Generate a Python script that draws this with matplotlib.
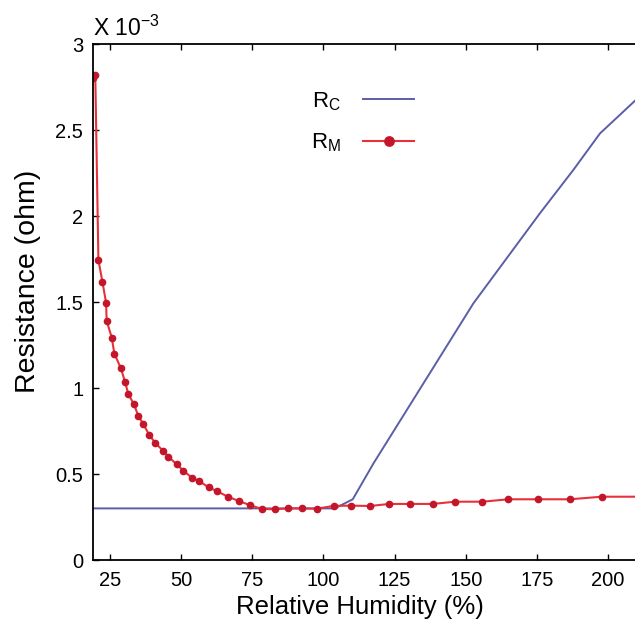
import matplotlib
matplotlib.use("Agg")
import matplotlib.pyplot as plt

plt.rcParams['font.family'] = ['Liberation Sans', 'DejaVu Sans']
plt.rcParams['mathtext.default'] = 'regular'

# R_M (measured), values in units of 1e-3 ohm
rm_rh = [19.0, 19.8, 20.9, 22.3, 23.6, 23.8, 25.6, 26.5, 28.8, 30.3, 31.4, 33.4,
         34.9, 36.7, 38.8, 40.8, 43.7, 45.5, 48.4, 50.8, 53.7, 56.3, 59.6, 62.5,
         66.4, 70.3, 74.3, 78.3, 82.8, 87.7, 92.6, 97.7, 103.7, 109.7, 116.4,
         123.2, 130.4, 138.4, 146.3, 155.9, 165.0, 175.3, 186.7, 197.8, 212.0]
rm_val = [2.80, 2.82, 1.744, 1.618, 1.496, 1.39, 1.293, 1.20, 1.115, 1.033, 0.965, 0.905,
          0.839, 0.789, 0.727, 0.682, 0.634, 0.601, 0.556, 0.519, 0.479, 0.459, 0.423, 0.401,
          0.368, 0.343, 0.318, 0.297, 0.295, 0.300, 0.300, 0.298, 0.315, 0.316, 0.314,
          0.326, 0.326, 0.326, 0.339, 0.339, 0.353, 0.353, 0.353, 0.368, 0.368]

# R_C (calculated), values in units of 1e-3 ohm
rc_rh = [19.0, 104.0, 110.3, 117.6, 129.3, 141.0, 152.7, 164.4, 176.1, 187.8, 197.2, 209.5, 215.0]
rc_val = [0.300, 0.300, 0.353, 0.562, 0.872, 1.182, 1.492, 1.754, 2.016, 2.267, 2.48, 2.67, 2.76]

x_ticks = [25, 50, 75, 100, 125, 150, 175, 200]
y_ticks = [0, 0.5, 1, 1.5, 2, 2.5, 3]
y_ticklabels = ['0', '0.5', '1', '1.5', '2', '2.5', '3']

W, H = 635, 625
fig = plt.figure(figsize=(W / 100, H / 100), dpi=100)
x0, x1 = 19.0, 215.0
px_per_unit = 2.845
ax_left = 93 / W
ax_bottom = (H - 560) / H
ax_h = (560 - 44) / H
ax_w = (x1 - x0) * px_per_unit / W
ax = fig.add_axes([ax_left, ax_bottom, ax_w, ax_h])
ax_wpx = ax_w * W
ax_hpx = ax_h * H

ax.plot(rc_rh, rc_val, color='#5b5ea6', lw=1.4, label='R$_C$')
ax.plot(rm_rh, rm_val, color='#e8303a', lw=1.5, marker='o', ms=4.5,
        mfc='#c4162a', mec='#c4162a', label='R$_M$')

ax.set_xlim(x0, x1)
ax.set_ylim(0, 3)
ax.set_xticks(x_ticks)
ax.set_yticks(y_ticks)
ax.set_yticklabels(y_ticklabels)
ax.tick_params(direction='in', length=4, width=1, labelsize=14.5, top=True, right=False)
ax.tick_params(axis='x', pad=8)
ax.tick_params(axis='y', pad=7)
for s in ['left', 'bottom', 'top']:
    ax.spines[s].set_linewidth(1.3)
ax.spines['right'].set_visible(False)

ax.set_xlabel('Relative Humidity (%)', fontsize=18.5)
ax.set_ylabel('Resistance (ohm)', fontsize=20.5)
ax.xaxis.set_label_coords((360 - 93) / ax_wpx, -(607 - 560) / ax_hpx)
ax.yaxis.set_label_coords(-(93 - 28) / ax_wpx, (560 - 281) / ax_hpx)
ax.xaxis.label.set_va('center')
ax.yaxis.label.set_va('center')

fig.text(93 / W, 1 - 28 / H, 'X 10$^{-3}$', fontsize=16.5, ha='left', va='center')

leg = ax.legend(loc='upper left', bbox_to_anchor=((291 - 93) / ax_wpx, 1 - (70 - 44) / ax_hpx),
                frameon=False, markerfirst=False, fontsize=16, handlelength=2.3,
                handletextpad=1.0, labelspacing=0.85, markerscale=1.5)

fig.savefig('out.png', dpi=100)
